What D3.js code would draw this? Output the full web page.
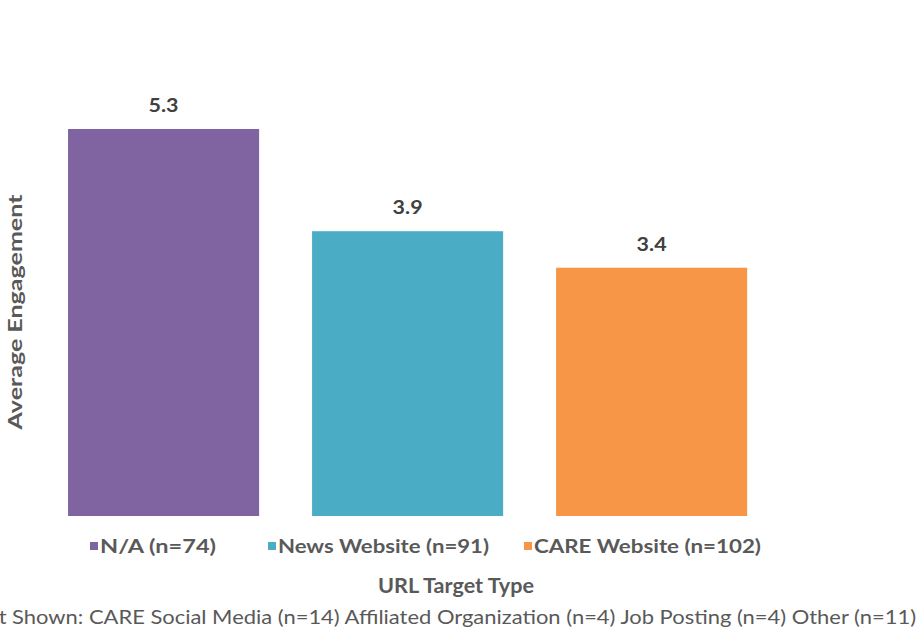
<!DOCTYPE html>
<html>
<head>
<meta charset="utf-8">
<script src="https://cdn.jsdelivr.net/npm/d3@7"></script>
<style>
html,body{margin:0;padding:0;background:#fff;}
svg{display:block;}
text{font-family:Lato,"Open Sans",sans-serif;}
</style>
</head>
<body>
<svg id="chart" width="922" height="634"></svg>
<script>
const categories = ["N/A", "News Website", "CARE Website"];
const counts = [74, 91, 102];
const values = [5.3, 3.9, 3.4];
const colors = ["#8064A2", "#4BACC6", "#F79646"];
const yTitle = "Average Engagement";
const xTitle = "URL Target Type";
const footnote = "Not Shown: CARE Social Media (n=14) Affiliated Organization (n=4) Job Posting (n=4) Other (n=11)";

const svg = d3.select("#chart");
const baseY = 516;
const x = d3.scaleBand().domain(categories).range([41.2, 774]).paddingInner(0.217).paddingOuter(0.11);
const y = d3.scaleLinear().domain([0, 5.3]).range([baseY, 129]);

svg.append("g").selectAll("rect").data(categories).join("rect")
  .attr("x", d => x(d))
  .attr("width", x.bandwidth())
  .attr("y", (d, i) => y(values[i]))
  .attr("height", (d, i) => baseY - y(values[i]))
  .attr("fill", (d, i) => colors[i]);

svg.append("g").selectAll("text").data(categories).join("text")
  .attr("x", d => x(d) + x.bandwidth() / 2)
  .attr("y", (d, i) => y(values[i]) - 17)
  .attr("text-anchor", "middle")
  .attr("font-size", 18)
  .attr("font-weight", "bold")
  .attr("fill", "#404040")
  .attr("textLength", 30)
  .attr("lengthAdjust", "spacingAndGlyphs")
  .text((d, i) => d3.format(".1f")(values[i]));

// legend
const legendX = [90, 268, 524];
const legendW = [116, 211, 227];
const lg = svg.append("g").selectAll("g").data(categories).join("g")
  .attr("transform", (d, i) => `translate(${legendX[i]},546)`);
lg.append("rect").attr("x", 0).attr("y", -4).attr("width", 8).attr("height", 8)
  .attr("fill", (d, i) => colors[i]);
lg.append("text").attr("x", 10).attr("y", 0).attr("dy", "0.36em")
  .attr("font-size", 19).attr("font-weight", "bold").attr("fill", "#595959")
  .attr("textLength", (d, i) => legendW[i])
  .attr("lengthAdjust", "spacingAndGlyphs")
  .text((d, i) => `${d} (n=${counts[i]})`);

svg.append("text")
  .attr("x", 456).attr("y", 593)
  .attr("text-anchor", "middle")
  .attr("font-size", 21).attr("font-weight", "bold").attr("fill", "#595959")
  .attr("textLength", 156)
  .attr("lengthAdjust", "spacingAndGlyphs")
  .text(xTitle);

svg.append("text")
  .attr("transform", "translate(22,312) rotate(-90)")
  .attr("text-anchor", "middle")
  .attr("font-size", 19).attr("font-weight", "bold").attr("fill", "#595959")
  .attr("textLength", 235)
  .attr("lengthAdjust", "spacingAndGlyphs")
  .text(yTitle);

svg.append("text")
  .attr("x", -30).attr("y", 624)
  .attr("font-size", 19).attr("fill", "#595959")
  .attr("textLength", 946)
  .attr("lengthAdjust", "spacingAndGlyphs")
  .text(footnote);
</script>
</body>
</html>
